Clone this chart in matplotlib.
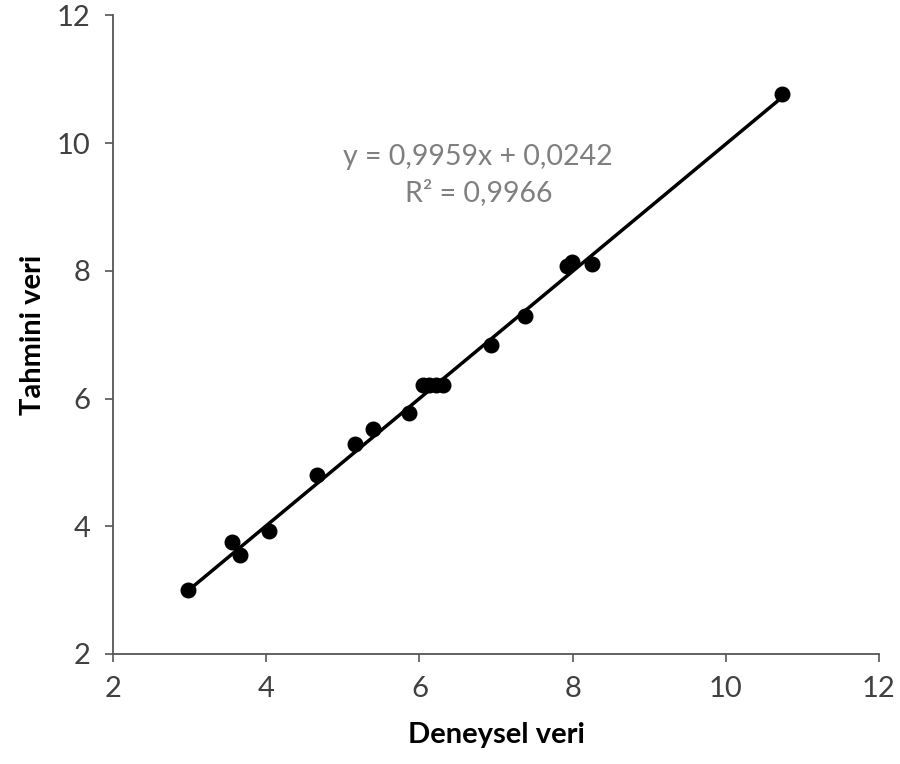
import numpy as np
import matplotlib.pyplot as plt

# measured (x) vs predicted (y)
deneysel = [2.98, 3.55, 3.66, 4.03, 4.66, 5.16, 5.40, 5.87, 6.05, 6.13, 6.22, 6.31,
            6.94, 7.38, 7.93, 7.99, 8.26, 10.74]
tahmini = [3.00, 3.76, 3.55, 3.93, 4.80, 5.29, 5.52, 5.78, 6.21, 6.21, 6.21, 6.21,
           6.84, 7.29, 8.08, 8.13, 8.11, 10.76]
slope = 0.9959
intercept = 0.0242
r2 = 0.9966
ticks = [2, 4, 6, 8, 10, 12]

plt.rcParams['font.family'] = ['Lato', 'DejaVu Sans']

fig = plt.figure(figsize=(9, 7.64), dpi=100)
ax = fig.add_axes([0.1256, 0.144, 0.851, 0.836])

xs = np.array([min(deneysel), max(deneysel)])
ax.plot(xs, slope * xs + intercept, color='black', lw=2.5, zorder=2)
ax.scatter(deneysel, tahmini, s=110, color='black', zorder=3)

ax.set_xlim(2, 12)
ax.set_ylim(2, 12)
ax.set_xticks(ticks)
ax.set_yticks(ticks)
ax.tick_params(labelsize=21, labelcolor='#404040', length=6, width=1.2,
               color='#555555', pad=10)
for s in ['top', 'right']:
    ax.spines[s].set_visible(False)
for s in ['left', 'bottom']:
    ax.spines[s].set_color('#555555')
    ax.spines[s].set_linewidth(1.3)

ax.set_xlabel('Deneysel veri', fontsize=21, fontweight='bold', labelpad=14)
ax.set_ylabel('Tahmini veri', fontsize=21, fontweight='bold', labelpad=8)

eq = f"y = {slope:.4f}x + {intercept:.4f}".replace('.', ',')
r2_txt = f"R² = {r2:.4f}".replace('.', ',')
ax.text(6.77, 9.78, eq, fontsize=20.5, color='#7f7f7f', ha='center', va='center')
ax.text(6.77, 9.23, r2_txt, fontsize=20.5, color='#7f7f7f', ha='center', va='center')

fig.savefig('out.png', dpi=100)
